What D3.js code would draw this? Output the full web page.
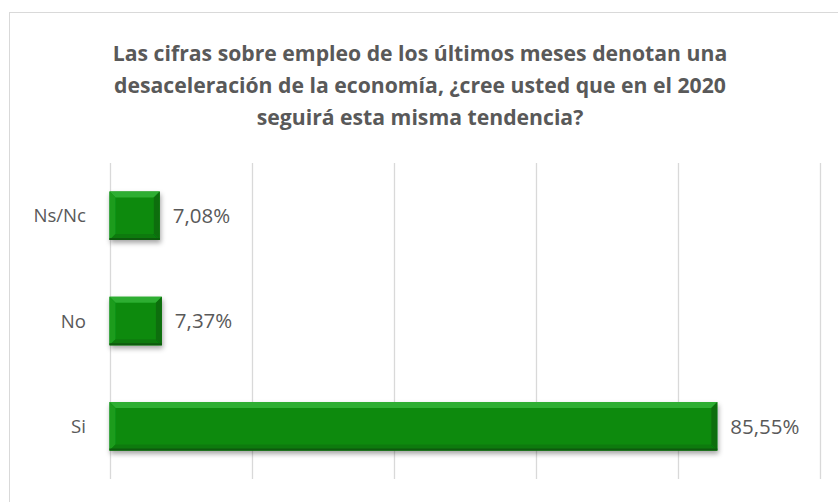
<!DOCTYPE html>
<html>
<head>
<meta charset="utf-8">
<script src="https://cdn.jsdelivr.net/npm/d3@7"></script>
<style>
  html, body { margin: 0; padding: 0; background: #fff; }
  svg { display: block; font-family: 'Open Sans', sans-serif; }
</style>
</head>
<body>
<div class="chart"></div>
<script>
const titleLines = [
    'Las cifras sobre empleo de los últimos meses denotan una',
    'desaceleración de la economía, ¿cree usted que en el 2020',
    'seguirá esta misma tendencia?'
];
const categories = ['Ns/Nc', 'No', 'Si'];
const values = [7.08, 7.37, 85.55];
const xTicks = [0, 20, 40, 60, 80, 100];

const width = 838;
const height = 502;
const textColor = '#595959';
const gridColor = '#d9d9d9';

const plot = { left: 109.5, right: 820, top: 163, bottom: 479 };

const svg = d3.select('.chart')
    .append('svg')
    .attr('width', width)
    .attr('height', height);

const defs = svg.append('defs');
const shadow = defs.append('filter')
    .attr('id', 'shadow')
    .attr('x', '-10%').attr('y', '-20%')
    .attr('width', '130%').attr('height', '160%');
shadow.append('feDropShadow')
    .attr('dx', 1).attr('dy', 3)
    .attr('stdDeviation', 2.5)
    .attr('flood-color', '#000')
    .attr('flood-opacity', 0.35);

// chart frame
svg.append('rect')
    .attr('x', 9.5).attr('y', 12.5)
    .attr('width', 840).attr('height', 520)
    .attr('fill', '#fff')
    .attr('stroke', gridColor)
    .attr('stroke-width', 1);

// title
svg.append('text')
    .attr('text-anchor', 'middle')
    .attr('fill', textColor)
    .style('font-weight', 'bold')
    .style('font-size', '21.2px')
    .selectAll('tspan')
    .data(titleLines)
    .enter().append('tspan')
    .attr('x', 420)
    .attr('y', (d, i) => 61 + i * 32)
    .text(d => d);

const x = d3.scaleLinear()
    .domain([0, 100])
    .range([plot.left, plot.right]);

const y = d3.scaleBand()
    .domain(categories)
    .range([plot.top, plot.bottom])
    .paddingInner(0.54)
    .paddingOuter(0.27);

// gridlines
svg.append('g')
    .attr('class', 'grid')
    .selectAll('line')
    .data(xTicks)
    .enter().append('line')
    .attr('x1', d => Math.round(x(d)) + 0.5)
    .attr('x2', d => Math.round(x(d)) + 0.5)
    .attr('y1', plot.top)
    .attr('y2', plot.bottom)
    .attr('stroke', gridColor)
    .attr('stroke-width', 1.3);

// category labels
svg.append('g')
    .selectAll('text')
    .data(categories)
    .enter().append('text')
    .attr('x', 86)
    .attr('y', d => y(d) + y.bandwidth() / 2)
    .attr('dy', '0.35em')
    .attr('text-anchor', 'end')
    .attr('fill', textColor)
    .style('font-size', '18.6px')
    .text(d => d);

// bars with bevel
const rows = categories.map((c, i) => ({ cat: c, value: values[i] }));
const bev = 6;

const bar = svg.append('g')
    .attr('class', 'bars')
    .selectAll('g')
    .data(rows)
    .enter().append('g')
    .attr('filter', 'url(#shadow)');

bar.append('rect')
    .attr('x', x(0))
    .attr('y', d => y(d.cat))
    .attr('width', d => x(d.value) - x(0))
    .attr('height', y.bandwidth())
    .attr('fill', '#088a0b');

function pts(d) {
    const x0 = x(0), x1 = x(d.value), y0 = y(d.cat), y1 = y0 + y.bandwidth();
    return { x0, x1, y0, y1 };
}

// top edge highlight
bar.append('polygon')
    .attr('points', d => {
        const p = pts(d);
        return [[p.x0, p.y0], [p.x1, p.y0], [p.x1 - bev, p.y0 + bev], [p.x0 + bev, p.y0 + bev]].join(' ');
    })
    .attr('fill', '#2eae30');

// left edge
bar.append('polygon')
    .attr('points', d => {
        const p = pts(d);
        return [[p.x0, p.y0], [p.x0 + bev, p.y0 + bev], [p.x0 + bev, p.y1 - bev], [p.x0, p.y1]].join(' ');
    })
    .attr('fill', '#1a9c1e');

// bottom edge
bar.append('polygon')
    .attr('points', d => {
        const p = pts(d);
        return [[p.x0, p.y1], [p.x0 + bev, p.y1 - bev], [p.x1 - bev, p.y1 - bev], [p.x1, p.y1]].join(' ');
    })
    .attr('fill', '#077a0b');

// right edge
bar.append('polygon')
    .attr('points', d => {
        const p = pts(d);
        return [[p.x1, p.y0], [p.x1, p.y1], [p.x1 - bev, p.y1 - bev], [p.x1 - bev, p.y0 + bev]].join(' ');
    })
    .attr('fill', '#0a6e0f');

// dark outline at bottom
bar.append('line')
    .attr('x1', d => x(0))
    .attr('x2', d => x(d.value))
    .attr('y1', d => y(d.cat) + y.bandwidth() - 1)
    .attr('y2', d => y(d.cat) + y.bandwidth() - 1)
    .attr('stroke', '#0a5a0e')
    .attr('stroke-width', 2);

// value labels
svg.append('g')
    .selectAll('text')
    .data(rows)
    .enter().append('text')
    .attr('x', d => x(d.value) + 13)
    .attr('y', d => y(d.cat) + y.bandwidth() / 2)
    .attr('dy', '0.35em')
    .attr('fill', textColor)
    .style('font-size', '20.5px')
    .text(d => d3.format('.2f')(d.value).replace('.', ',') + '%');
</script>
</body>
</html>
